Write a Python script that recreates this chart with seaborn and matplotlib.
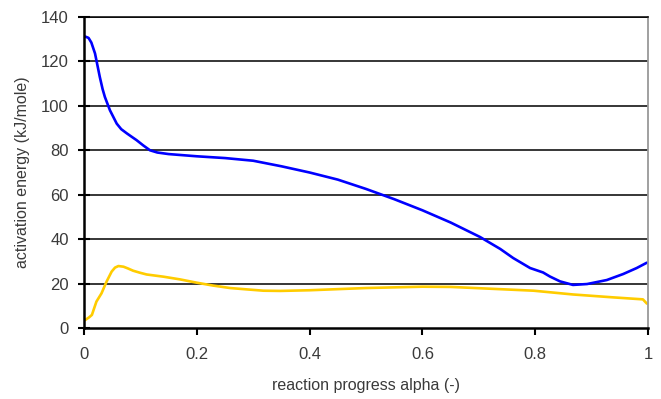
import numpy as np
import pandas as pd
import matplotlib
matplotlib.use("Agg")
import matplotlib.pyplot as plt
import seaborn as sns

# Blue curve
blue_alpha = [0.002, 0.008, 0.013, 0.0195, 0.024, 0.028, 0.033, 0.037, 0.046, 0.052,
              0.058, 0.066, 0.076, 0.085, 0.093, 0.105, 0.117, 0.13, 0.15, 0.2,
              0.25, 0.3, 0.35, 0.4, 0.45, 0.5, 0.55, 0.6, 0.65, 0.702,
              0.738, 0.761, 0.791, 0.814, 0.826, 0.844, 0.867, 0.892, 0.927, 0.956,
              0.98, 0.998]
blue_energy = [131.2, 130.6, 128.5, 123.6, 118.0, 113.0, 107.5, 104.0, 98.0, 95.0,
               92.0, 89.5, 87.6, 86.0, 84.6, 82.2, 80.0, 79.0, 78.3, 77.3,
               76.5, 75.3, 72.8, 70.0, 66.8, 62.6, 58.0, 53.0, 47.5, 41.0,
               35.6, 31.5, 27.0, 25.0, 23.2, 21.0, 19.4, 19.8, 21.6, 24.3,
               27.0, 29.4]

# Yellow curve
yellow_alpha = [0.002, 0.009, 0.014, 0.022, 0.031, 0.04, 0.049, 0.055, 0.061, 0.07,
                0.078, 0.087, 0.099, 0.111, 0.141, 0.17, 0.2, 0.229, 0.259, 0.288,
                0.318, 0.348, 0.4, 0.5, 0.6, 0.65, 0.702, 0.797, 0.867, 0.938,
                0.991, 0.998]
yellow_energy = [3.6, 4.8, 5.9, 11.9, 15.6, 20.9, 25.4, 27.2, 27.9, 27.6,
                 26.8, 25.8, 24.9, 24.1, 23.1, 21.9, 20.4, 19.1, 18.0, 17.4,
                 16.8, 16.7, 17.0, 18.0, 18.6, 18.5, 17.9, 16.8, 15.1, 13.8,
                 12.9, 11.0]

x_ticks = [0, 0.2, 0.4, 0.6, 0.8, 1]
x_tick_labels = ["0", "0.2", "0.4", "0.6", "0.8", "1"]
y_ticks = [0, 20, 40, 60, 80, 100, 120, 140]

df = pd.concat([
    pd.DataFrame({"alpha": blue_alpha, "energy": blue_energy, "series": "blue"}),
    pd.DataFrame({"alpha": yellow_alpha, "energy": yellow_energy, "series": "yellow"}),
])

sns.set_style("white")
plt.rcParams["font.family"] = ["Liberation Sans", "DejaVu Sans"]

fig = plt.figure(figsize=(6.61, 3.99), dpi=100)
ax = fig.add_axes([0.1271, 0.1779, 0.8532, 0.7795])

sns.lineplot(data=df, x="alpha", y="energy", hue="series",
             palette={"blue": "#0000FF", "yellow": "#FFCC00"},
             linewidth=1.9, legend=False, ax=ax, sort=False)

ax.set_xlim(0, 1)
ax.set_ylim(0, 140)
ax.set_xticks(x_ticks)
ax.set_xticklabels(x_tick_labels)
ax.set_yticks(y_ticks)

for y in y_ticks[1:]:
    ax.axhline(y, color="black", linewidth=1.1, zorder=0)

txt = "#3a3a3a"
ax.tick_params(axis="x", direction="out", length=5, width=1.5, color="black",
               labelsize=12, labelcolor=txt, pad=9)
ax.tick_params(axis="y", direction="inout", length=8, width=1.5, color="black",
               labelsize=12, labelcolor=txt, pad=7)
ax.tick_params(left=True, bottom=True)

ax.set_xlabel("reaction progress alpha (-)", fontsize=11.5, color=txt, labelpad=11)
ax.set_ylabel("activation energy (kJ/mole)", fontsize=11.5, color=txt, labelpad=8)

ax.spines["left"].set_color("black")
ax.spines["left"].set_linewidth(1.8)
ax.spines["bottom"].set_color("black")
ax.spines["bottom"].set_linewidth(1.8)
ax.spines["right"].set_color("#999999")
ax.spines["right"].set_linewidth(1.3)
ax.spines["top"].set_color("black")
ax.spines["top"].set_linewidth(1.1)

fig.savefig("out.png", dpi=100)
